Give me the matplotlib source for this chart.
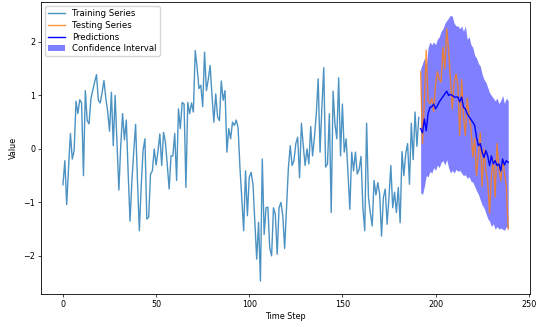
import matplotlib
matplotlib.use("Agg")
import matplotlib.pyplot as plt
import numpy as np

# values
train_values = [
    -0.67, -0.22, -1.04, -0.35, 0.29, -0.19, -0.03, 0.89, 0.66, 0.92,
    0.86, -0.50, 1.09, 0.53, 0.47, 0.94, 1.10, 1.25, 1.39, 0.91,
    0.86, 1.05, 1.28, 0.95, 0.70, 0.33, 1.06, 0.06, 1.00, 0.10,
    -0.77, 0.05, 0.66, 0.17, 0.54, -0.45, -1.35, -0.60, -0.05, 0.46,
    -0.60, -1.53, -0.70, -0.03, 0.19, -1.31, -1.28, -0.47, -0.41, 0.00,
    -0.30, -0.05, 0.28, -0.31, 0.31, 0.12, -0.30, -0.75, -0.13, -0.13,
    0.29, -0.59, 0.75, 0.38, 0.87, 0.84, -0.72, 0.87, 0.66, 0.86,
    0.69, 1.84, 1.53, 1.13, 1.19, 0.79, 1.81, 1.09, 1.30, 1.56,
    1.00, 0.50, 1.03, 0.60, 0.53, 1.27, 0.91, 1.09, -0.06, 0.38,
    0.19, 0.50, 0.44, 0.54, 0.40, -0.34, -0.95, -1.53, -0.41, -1.25,
    -0.53, -0.44, -0.66, -1.35, -2.06, -1.37, -2.47, -0.19, -1.60, -1.10,
    -1.09, -1.85, -2.00, -1.10, -1.22, -1.97, -1.10, -1.00, -1.25, -1.86,
    -1.10, -0.36, 0.06, -0.31, -0.22, 0.10, 0.22, -0.54, 0.48, 0.06,
    -0.31, 0.00, -0.28, 0.42, -0.13, 0.22, 0.66, 1.31, -0.06, 0.79,
    1.52, -0.34, -0.28, 0.66, -1.19, 1.08, 0.47, 0.19, 1.33, -0.13,
    0.84, -0.06, 0.19, -0.45, -1.13, -0.06, -0.41, -0.06, -0.47, -0.38,
    -0.14, -1.10, -1.53, 0.48, -0.91, -1.20, -1.44, -0.59, -0.86, -0.63,
    -0.84, -1.63, -0.91, -0.75, -1.41, -0.91, -0.31, -1.10, -0.81, -1.19,
    -0.72, -1.38, -0.05, -0.50, -0.09, 0.10, -0.66, 0.48, -0.20, 0.69,
    0.05, 0.59,
]

test_values = [
    1.45, 0.10, 0.90, 1.85, 0.90, 0.85, 0.95, 0.70, 1.20, 1.45,
    1.30, 1.25, 1.90, 1.50, 2.25, 1.85, 1.30, 0.75, 1.25, 1.40,
    1.20, 0.25, 1.30, 0.60, 0.25, 0.95, 0.60, 0.40, -0.15, 0.20,
    -0.50, -0.10, 0.30, -0.70, 0.00, -0.40, -0.60, -1.20, -0.50, -0.20,
    -0.90, 0.10, -0.35, -0.60, -0.20, -0.45, -0.70, -1.50,
]

pred_values = [
    0.38, 0.30, 0.56, 0.34, 0.66, 0.78, 0.79, 0.84, 0.75, 0.81,
    0.88, 0.93, 0.98, 1.03, 1.08, 1.00, 1.02, 1.00, 0.97, 0.97,
    0.97, 0.88, 0.97, 0.78, 0.75, 0.66, 0.60, 0.55, 0.50, 0.44,
    0.22, 0.06, 0.10, -0.06, -0.16, -0.03, -0.13, -0.31, -0.13, -0.28,
    -0.22, -0.31, -0.28, -0.41, -0.19, -0.30, -0.22, -0.25,
]

ci_upper = [
    1.50, 1.60, 1.70, 1.55, 1.90, 2.00, 1.95, 2.00, 1.95, 2.05,
    2.10, 2.20, 2.25, 2.35, 2.40, 2.45, 2.50, 2.48, 2.35, 2.30,
    2.30, 2.25, 2.30, 2.20, 2.30, 2.05, 2.10, 1.95, 1.90, 1.75,
    1.70, 1.60, 1.55, 1.40, 1.30, 1.25, 1.15, 1.05, 1.00, 0.95,
    0.90, 0.95, 0.85, 0.90, 1.00, 0.85, 0.95, 0.90,
]

ci_lower = [
    -0.82, -0.85, -0.70, -0.50, -0.52, -0.42, -0.45, -0.35, -0.40, -0.30,
    -0.35, -0.25, -0.22, -0.30, -0.20, -0.35, -0.45, -0.40, -0.45, -0.38,
    -0.42, -0.40, -0.45, -0.50, -0.48, -0.55, -0.52, -0.60, -0.62, -0.70,
    -0.78, -0.85, -0.95, -1.05, -1.10, -1.20, -1.30, -1.35, -1.45, -1.40,
    -1.50, -1.45, -1.50, -1.48, -1.50, -1.52, -1.45, -1.50,
]

plt.rcParams["font.size"] = 5.8

train_x = np.arange(len(train_values))
test_x = np.arange(len(train_values), len(train_values) + len(test_values))

fig = plt.figure(figsize=(5.37, 3.27), dpi=100)
ax = fig.add_axes([0.0758, 0.100, 0.912, 0.894])

ax.plot(train_x, train_values, color="tab:blue", alpha=0.8, lw=1.0,
        label="Training Series")
ax.plot(test_x, test_values, color="tab:orange", alpha=0.8, lw=1.0,
        label="Testing Series")
ax.plot(test_x, pred_values, color="blue", lw=1.0, label="Predictions")
ax.fill_between(test_x, ci_lower, ci_upper, color="blue", alpha=0.5,
                linewidth=0, label="Confidence Interval")

ax.set_xlabel("Time Step", labelpad=2)
ax.set_ylabel("Value", labelpad=4)
ax.tick_params(length=2, width=0.5, pad=2)
for s in ax.spines.values():
    s.set_linewidth(0.6)
ax.legend(loc="upper left", fontsize=6.25, borderpad=0.35,
          labelspacing=0.3, handlelength=2.0)

fig.savefig("out.png", dpi=100)
